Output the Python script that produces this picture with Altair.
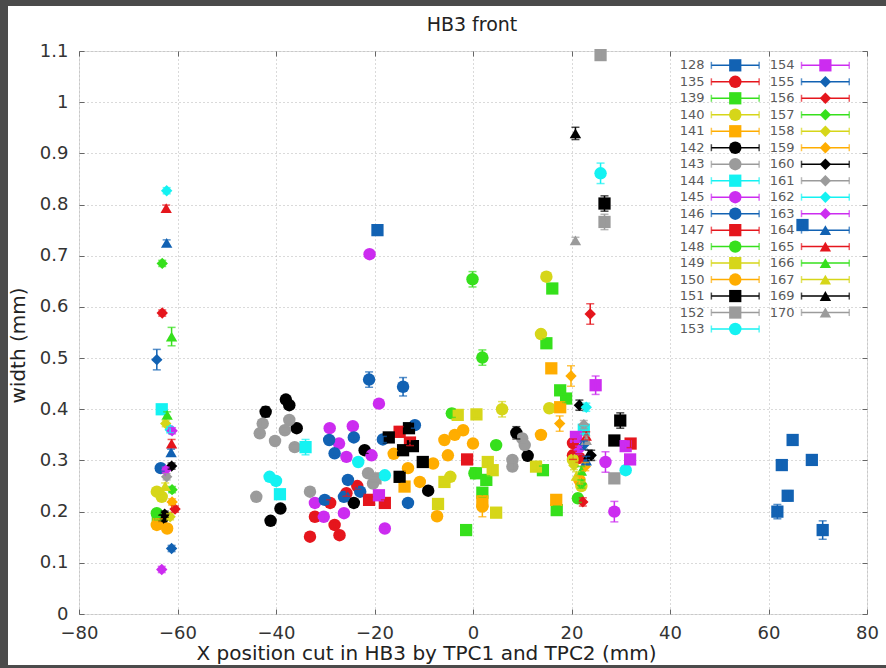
import altair as alt
import pandas as pd

# Beam width measurements per run: (x position in mm, width in mm, error in mm)
s128 = [(-19.4, 0.750, 0.006), (66.9, 0.760, 0.008), (64.9, 0.340, 0.010), (62.7, 0.291, 0.010),
        (68.8, 0.301, 0.010), (63.9, 0.231, 0.010), (61.8, 0.200, 0.014), (71.0, 0.164, 0.018)]
s135 = [(-33.1, 0.151, 0.006), (-32.1, 0.190, 0.006), (-29.0, 0.217, 0.006), (-28.1, 0.174, 0.006),
        (-27.1, 0.154, 0.006), (-25.7, 0.236, 0.006), (-23.5, 0.250, 0.006), (20.3, 0.334, 0.008),
        (20.3, 0.310, 0.008), (21.6, 0.305, 0.008)]
s139 = [(16.1, 0.636, 0.008), (14.9, 0.529, 0.008), (17.7, 0.437, 0.008), (18.9, 0.421, 0.008),
        (14.2, 0.281, 0.008), (0.6, 0.275, 0.008), (2.7, 0.262, 0.008), (-1.4, 0.164, 0.006),
        (17.0, 0.203, 0.008), (1.9, 0.237, 0.008), (-64.0, 0.190, 0.006)]
s140 = [(14.9, 0.659, 0.008), (13.8, 0.547, 0.008), (15.5, 0.402, 0.008), (5.9, 0.400, 0.015),
        (-64.2, 0.239, 0.006), (-63.2, 0.229, 0.006), (20.3, 0.301, 0.008), (-4.6, 0.268, 0.008),
        (22.0, 0.250, 0.008)]
s141 = [(15.9, 0.480, 0.008), (17.7, 0.404, 0.008), (16.9, 0.223, 0.010), (1.9, 0.220, 0.010),
        (-13.9, 0.249, 0.006), (-63.8, 0.180, 0.006)]
s142 = [(-38.0, 0.419, 0.006), (-37.3, 0.408, 0.006), (-42.1, 0.395, 0.010), (-35.8, 0.363, 0.006),
        (-39.1, 0.206, 0.006), (-41.1, 0.182, 0.006), (-24.2, 0.217, 0.006), (-9.1, 0.241, 0.006),
        (8.8, 0.354, 0.012), (11.1, 0.309, 0.008), (-63.1, 0.187, 0.006), (-22.0, 0.320, 0.006)]
s143 = [(-42.7, 0.372, 0.006), (-43.3, 0.353, 0.006), (-37.3, 0.379, 0.006), (-38.2, 0.359, 0.006),
        (-40.2, 0.338, 0.006), (-36.2, 0.326, 0.006), (-44.0, 0.229, 0.006), (-33.1, 0.239, 0.006),
        (-21.3, 0.275, 0.006), (-20.3, 0.255, 0.006), (10.0, 0.343, 0.008), (10.5, 0.330, 0.008),
        (8.0, 0.301, 0.008), (8.0, 0.288, 0.008)]
s144 = [(-34.0, 0.326, 0.015), (-39.2, 0.234, 0.008), (-63.2, 0.400, 0.008), (22.5, 0.360, 0.008)]
s145 = [(-21.0, 0.703, 0.006), (-19.1, 0.411, 0.006), (-24.4, 0.367, 0.006), (-29.1, 0.363, 0.006),
        (-27.2, 0.333, 0.006), (-25.7, 0.307, 0.006), (-32.1, 0.217, 0.006), (-30.3, 0.190, 0.006),
        (-26.2, 0.197, 0.006), (-17.9, 0.167, 0.006), (-20.6, 0.310, 0.006), (26.9, 0.297, 0.020),
        (28.7, 0.200, 0.020)]
s146 = [(-21.1, 0.458, 0.015), (-14.2, 0.444, 0.018), (-29.2, 0.340, 0.006), (-28.1, 0.314, 0.006),
        (-24.2, 0.345, 0.006), (-18.3, 0.341, 0.006), (-11.8, 0.369, 0.006), (-30.1, 0.223, 0.006),
        (-25.4, 0.262, 0.006), (-26.2, 0.229, 0.006), (-22.9, 0.239, 0.006), (-13.2, 0.217, 0.006),
        (-63.4, 0.285, 0.006)]
s147 = [(-14.9, 0.356, 0.010), (-21.1, 0.223, 0.006), (-17.9, 0.217, 0.006), (-1.2, 0.302, 0.008),
        (32.0, 0.333, 0.008), (-12.8, 0.335, 0.006)]
s148 = [(-0.1, 0.654, 0.015), (1.9, 0.501, 0.015), (4.7, 0.330, 0.008), (0.3, 0.275, 0.008),
        (-64.2, 0.197, 0.006), (21.3, 0.226, 0.008), (-4.3, 0.392, 0.008)]
s149 = [(-7.1, 0.215, 0.006), (-5.8, 0.258, 0.006), (-3.1, 0.389, 0.008), (0.7, 0.390, 0.008),
        (3.0, 0.297, 0.008), (4.0, 0.281, 0.008), (4.7, 0.198, 0.008), (12.8, 0.288, 0.008)]
s150 = [(-7.3, 0.191, 0.006), (-5.8, 0.340, 0.006), (-5.1, 0.310, 0.006), (-3.7, 0.350, 0.006),
        (-2.0, 0.359, 0.006), (0.0, 0.333, 0.006), (-8.1, 0.294, 0.006), (-16.1, 0.313, 0.006),
        (-13.2, 0.285, 0.006), (-10.8, 0.258, 0.006), (13.8, 0.350, 0.008), (1.9, 0.210, 0.020),
        (-64.2, 0.174, 0.006), (-62.1, 0.167, 0.006), (21.6, 0.262, 0.008)]
s151 = [(26.7, 0.802, 0.015), (29.9, 0.378, 0.015), (28.7, 0.339, 0.008), (-17.1, 0.345, 0.006),
        (-13.0, 0.363, 0.006), (-14.2, 0.320, 0.006), (-12.2, 0.328, 0.006), (-10.2, 0.297, 0.006),
        (-14.9, 0.268, 0.006)]
s152 = [(25.9, 1.092, 0.010), (26.7, 0.766, 0.015), (28.7, 0.265, 0.008), (-19.8, 0.265, 0.006)]
s153 = [(25.9, 0.861, 0.020), (-41.3, 0.268, 0.006), (-40.0, 0.260, 0.006), (-23.3, 0.297, 0.006),
        (-17.9, 0.271, 0.006), (31.0, 0.281, 0.008)]
s154 = [(24.9, 0.447, 0.018), (31.0, 0.328, 0.008), (31.9, 0.302, 0.008), (-19.1, 0.232, 0.006),
        (20.9, 0.346, 0.008)]
s155 = [(-64.2, 0.497, 0.020), (-61.2, 0.128, 0.006), (22.5, 0.330, 0.008)]
s156 = [(-63.1, 0.588, 0.006), (23.8, 0.586, 0.020), (-60.5, 0.205, 0.006), (22.3, 0.219, 0.008)]
s157 = [(-63.1, 0.685, 0.006), (-61.1, 0.243, 0.006), (22.0, 0.254, 0.008)]
s158 = [(-62.4, 0.372, 0.006), (-61.5, 0.190, 0.006), (20.5, 0.290, 0.008)]
s159 = [(19.9, 0.465, 0.020), (17.6, 0.372, 0.015), (-61.1, 0.219, 0.006), (22.8, 0.288, 0.008)]
s160 = [(21.6, 0.408, 0.010), (24.0, 0.310, 0.010), (-61.2, 0.289, 0.006), (-62.6, 0.195, 0.006)]
s161 = [(-62.2, 0.268, 0.006), (22.5, 0.370, 0.008)]
s162 = [(-62.2, 0.827, 0.006), (23.0, 0.404, 0.008), (-61.5, 0.360, 0.006)]
s163 = [(-61.1, 0.358, 0.006), (-62.4, 0.281, 0.006), (-63.2, 0.087, 0.006), (21.5, 0.320, 0.008)]
s164 = [(-62.2, 0.725, 0.006), (-61.3, 0.316, 0.006), (23.0, 0.300, 0.008)]
s165 = [(-62.3, 0.793, 0.006), (-61.2, 0.333, 0.008), (23.0, 0.348, 0.008)]
s166 = [(-61.2, 0.542, 0.018), (-62.1, 0.389, 0.006), (22.0, 0.280, 0.008)]
s167 = [(-62.5, 0.250, 0.006), (21.0, 0.270, 0.008)]
s169 = [(20.8, 0.939, 0.012), (23.5, 0.312, 0.008)]
s170 = [(20.8, 0.730, 0.006), (23.0, 0.340, 0.008)]

runs = ["128", "135", "139", "140", "141", "142", "143", "144", "145", "146", "147", "148",
        "149", "150", "151", "152", "153", "154", "155", "156", "157", "158", "159", "160",
        "161", "162", "163", "164", "165", "166", "167", "169", "170"]
series = [s128, s135, s139, s140, s141, s142, s143, s144, s145, s146, s147, s148,
          s149, s150, s151, s152, s153, s154, s155, s156, s157, s158, s159, s160,
          s161, s162, s163, s164, s165, s166, s167, s169, s170]

x_ticks = [-80, -60, -40, -20, 0, 20, 40, 60, 80]
y_ticks = [0, 0.1, 0.2, 0.3, 0.4, 0.5, 0.6, 0.7, 0.8, 0.9, 1.0, 1.1]

# line colours and point types of the plotting style
BLUE, RED, GREEN, YELLOW, ORANGE = "#1262b3", "#e5161d", "#36e01c", "#d6d619", "#ffad00"
BLACK, GRAY, CYAN, MAGENTA = "#000000", "#9b9b9b", "#14f2f2", "#cc2cf0"
cycle = [BLUE, RED, GREEN, YELLOW, ORANGE, BLACK, GRAY, CYAN, MAGENTA]
first_shapes = ["square", "circle", "square", "circle", "square", "circle", "circle", "square",
                "circle", "circle", "square", "circle", "square", "circle", "square", "square",
                "circle", "square"]
colors = [cycle[i % 9] for i in range(27)] + [BLUE, RED, GREEN, YELLOW, BLACK, GRAY]
shapes = first_shapes + ["diamond"] * 9 + ["triangle-up"] * 6
marker_size = {"square": 150, "circle": 155, "diamond": 130, "triangle-up": 130}

rows = []
for name, pts, col, shp in zip(runs, series, colors, shapes):
    for x, y, e in pts:
        rows.append({"run": name, "x": x, "y": y, "lo": y - e, "hi": y + e,
                     "color": col, "shape": shp, "msize": marker_size[shp]})
df = pd.DataFrame(rows)

# key entries: two columns of 17 rows in the upper right corner
key_rows = []
for i, (name, col, shp) in enumerate(zip(runs, colors, shapes)):
    c, r = divmod(i, 17)
    x0 = 48.4 + c * 18.3
    key_rows.append({"run": name, "lx": x0 - 1.4, "x0": x0, "x1": x0 + 9.7, "xm": x0 + 4.85,
                     "ly": 1.072 - r * 0.0322, "color": col, "shape": shp,
                     "msize": marker_size[shp]})
key = pd.DataFrame(key_rows)

W, H = 788, 563
FONT = "DejaVu Sans"
xs = alt.Scale(domain=[-80, 80], nice=False, zero=False)
ys = alt.Scale(domain=[0, 1.1], nice=False, zero=False)

x_axis = alt.Axis(values=x_ticks, title="X position cut in HB3 by TPC1 and TPC2 (mm)",
                  grid=True, gridDash=[1, 3], gridColor="#b5b5b5", ticks=False, domain=False,
                  labelFontSize=18, labelPadding=10, labelColor="#333333", labelFont=FONT,
                  titleFont=FONT, titleFontSize=20, titleFontWeight="normal",
                  titleColor="#222222", titlePadding=1, titleX=347, titleAlign="center",
                  labelFlush=False)
y_axis = alt.Axis(values=y_ticks, format="~g", title="width (mm)",
                  grid=True, gridDash=[1, 3], gridColor="#b5b5b5", ticks=False, domain=False,
                  labelFontSize=18, labelPadding=11, labelColor="#333333", labelFont=FONT,
                  titleFont=FONT, titleFontSize=20, titleFontWeight="normal",
                  titleColor="#222222", titlePadding=11, titleY=294, titleAlign="center",
                  labelFlush=False)

points = alt.Chart(df).mark_point(filled=True, opacity=1, strokeWidth=0).encode(
    x=alt.X("x:Q", scale=xs, axis=x_axis),
    y=alt.Y("y:Q", scale=ys, axis=y_axis),
    color=alt.Color("color:N", scale=None),
    shape=alt.Shape("shape:N", scale=None),
    size=alt.Size("msize:Q", scale=None),
)

bars = alt.Chart(df).mark_rule(strokeWidth=1.5).encode(
    x=alt.X("x:Q", scale=xs, axis=None),
    y=alt.Y("lo:Q", scale=ys, axis=None),
    y2="hi:Q",
    color=alt.Color("color:N", scale=None),
)
caps_lo = alt.Chart(df).mark_tick(orient="horizontal", size=8, thickness=1.5).encode(
    x=alt.X("x:Q", scale=xs, axis=None),
    y=alt.Y("lo:Q", scale=ys, axis=None),
    color=alt.Color("color:N", scale=None),
)
caps_hi = caps_lo.encode(y=alt.Y("hi:Q", scale=ys, axis=None))

# inward tick marks on all four sides of the frame
tick_axis = dict(ticks=True, tickSize=5, tickColor="#666666", tickWidth=1, labels=False,
                 domain=False, grid=False, title=None, offset=-5)
frame_ticks = []
for xo, yo in [("bottom", "left"), ("top", "right")]:
    frame_ticks.append(alt.Chart(df).mark_point(opacity=0).encode(
        x=alt.X("x:Q", scale=xs, axis=alt.Axis(orient=xo, values=x_ticks, **tick_axis)),
        y=alt.Y("y:Q", scale=ys, axis=alt.Axis(orient=yo, values=y_ticks, **tick_axis)),
    ))

key_line = alt.Chart(key).mark_rule(strokeWidth=1.5).encode(
    x=alt.X("x0:Q", scale=xs, axis=None), x2="x1:Q",
    y=alt.Y("ly:Q", scale=ys, axis=None),
    color=alt.Color("color:N", scale=None),
)
key_cap0 = alt.Chart(key).mark_tick(orient="vertical", size=7, thickness=1.5).encode(
    x=alt.X("x0:Q", scale=xs, axis=None),
    y=alt.Y("ly:Q", scale=ys, axis=None),
    color=alt.Color("color:N", scale=None),
)
key_cap1 = key_cap0.encode(x=alt.X("x1:Q", scale=xs, axis=None))
key_mark = alt.Chart(key).mark_point(filled=True, opacity=1, strokeWidth=0).encode(
    x=alt.X("xm:Q", scale=xs, axis=None),
    y=alt.Y("ly:Q", scale=ys, axis=None),
    color=alt.Color("color:N", scale=None),
    shape=alt.Shape("shape:N", scale=None),
    size=alt.Size("msize:Q", scale=None),
)
key_text = alt.Chart(key).mark_text(align="right", baseline="middle", font=FONT,
                                    fontSize=13, color="#5a5a5a").encode(
    x=alt.X("lx:Q", scale=xs, axis=None),
    y=alt.Y("ly:Q", scale=ys, axis=None),
    text="run:N",
)

# plot heading and the dark frame around the figure
edge = pd.DataFrame({"k": [0]})
heading = alt.Chart(edge).mark_text(text="HB3 front", font=FONT, fontSize=19,
                                    color="#222222", align="center",
                                    baseline="middle").encode(
    x=alt.value(W / 2 - 1), y=alt.value(-26))
EDGE = "#4b4b4b"
frame = [
    alt.Chart(edge).mark_rect(color=EDGE).encode(
        x=alt.value(-79), x2=alt.value(-71), y=alt.value(-51), y2=alt.value(H + 54)),
    alt.Chart(edge).mark_rect(color=EDGE).encode(
        x=alt.value(-79), x2=alt.value(W + 19), y=alt.value(-51), y2=alt.value(-45)),
    alt.Chart(edge).mark_rect(color=EDGE).encode(
        x=alt.value(-79), x2=alt.value(W + 19), y=alt.value(H + 51), y2=alt.value(H + 54)),
]

chart = alt.layer(
    points, *frame_ticks, bars, caps_lo, caps_hi,
    key_line, key_cap0, key_cap1, key_mark, key_text, heading, *frame,
).resolve_axis(x="independent", y="independent").properties(
    width=W, height=H,
    autosize=alt.AutoSizeParams(type="none"),
    padding={"left": 79, "top": 51, "right": 19, "bottom": 54},
).configure_view(stroke="#8a8a8a", strokeWidth=1.5).configure(background="white")

chart.save("out.html", embed_options={"renderer": "svg", "actions": False})
